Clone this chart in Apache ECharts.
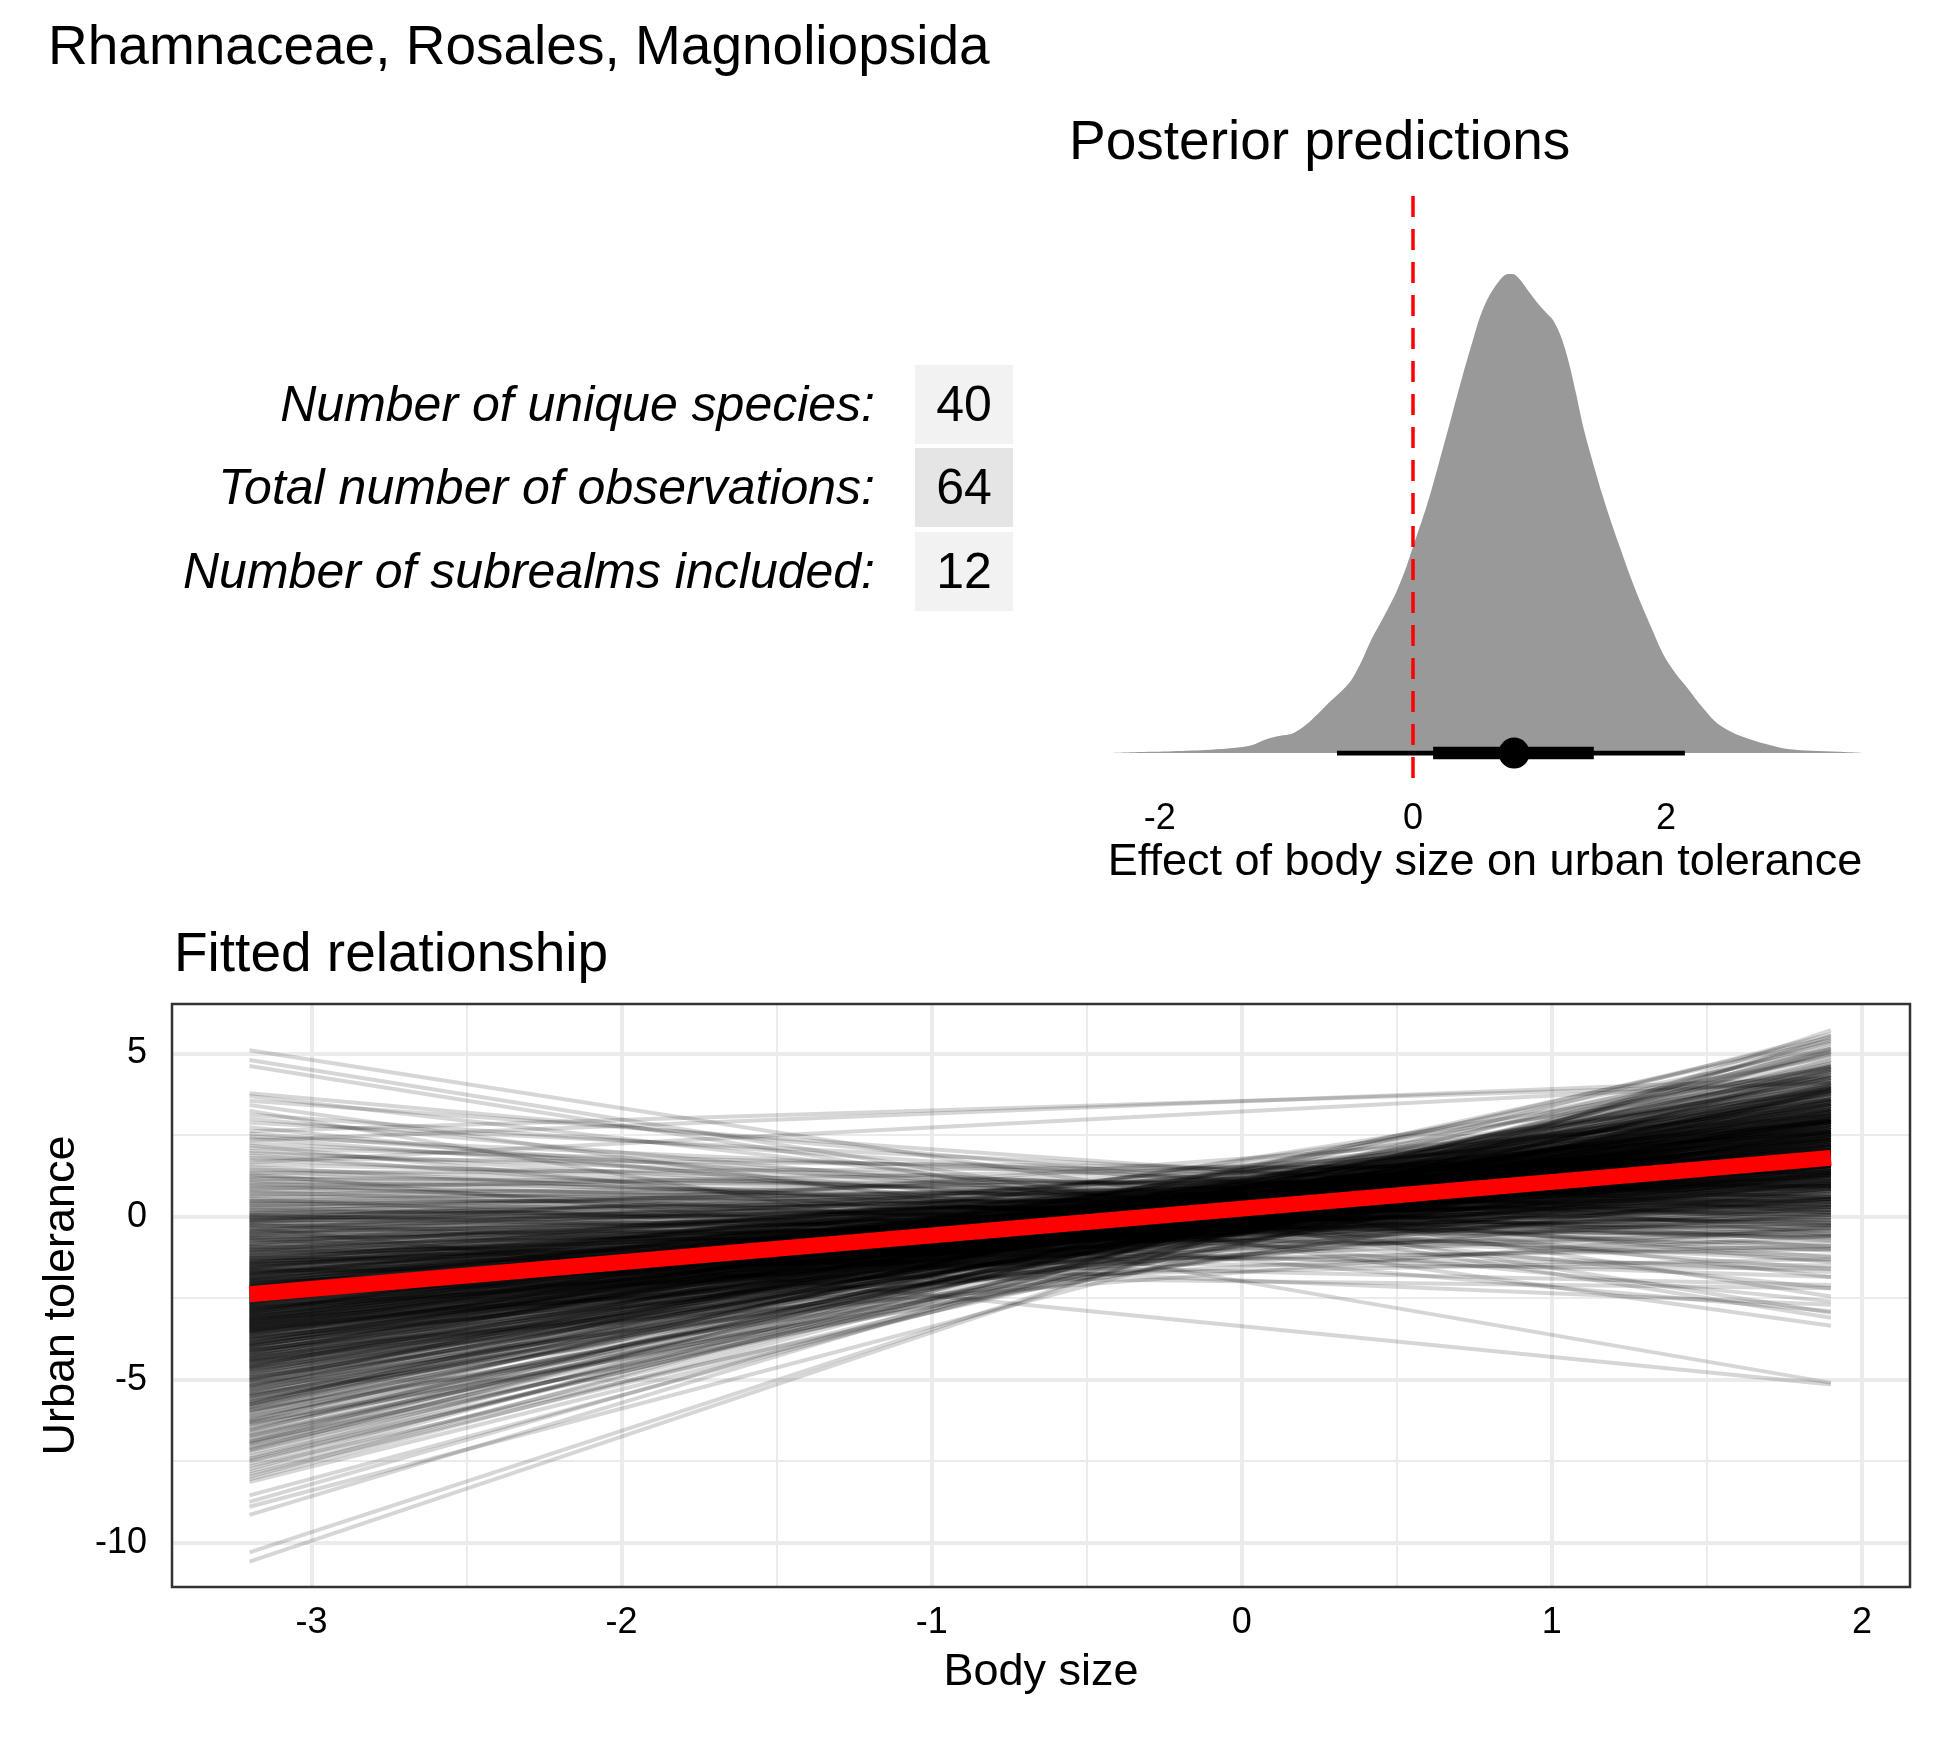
<!DOCTYPE html>
<html>
<head>
<meta charset="utf-8">
<script src="https://cdn.jsdelivr.net/npm/echarts@6.0.0/dist/echarts.min.js"></script>
<style>
  html, body { margin: 0; padding: 0; background: #fff; }
  #main { width: 1950px; height: 1740px; }
</style>
</head>
<body>
<div id="main"></div>
<script>
const FONT = '"Liberation Sans", Arial, Helvetica, sans-serif';

// header + summary table
const mainTitle = 'Rhamnaceae, Rosales, Magnoliopsida';
const statLabels = ['Number of unique species:', 'Total number of observations:', 'Number of subrealms included:'];
const statValues = ['40', '64', '12'];

// posterior density of the slope (height scaled so the mode is 1)
const densityX = [-2.45, -2.2, -1.9, -1.6, -1.4, -1.27, -1.17, -1.05, -0.95, -0.85, -0.75, -0.66, -0.57, -0.49, -0.4, -0.33,
  -0.22, -0.13, -0.05, 0, 0.11, 0.2, 0.3, 0.39, 0.47, 0.53, 0.59, 0.68, 0.75, 0.79, 0.84, 0.92, 0.99, 1.05, 1.11, 1.17,
  1.23, 1.29, 1.35, 1.43, 1.5, 1.57, 1.64, 1.71, 1.78, 1.88, 1.98, 2.08, 2.17, 2.29, 2.41, 2.55, 2.7, 2.85, 2.98, 3.15, 3.37, 3.59];
const densityY = [0, 0.002, 0.004, 0.007, 0.011, 0.017, 0.028, 0.036, 0.041, 0.058, 0.082, 0.106, 0.128, 0.151, 0.195, 0.236,
  0.29, 0.337, 0.39, 0.43, 0.517, 0.6, 0.697, 0.785, 0.858, 0.91, 0.948, 0.985, 1.0, 1.0, 0.99, 0.962, 0.938, 0.92, 0.903, 0.87,
  0.818, 0.75, 0.677, 0.6, 0.537, 0.48, 0.427, 0.375, 0.327, 0.265, 0.206, 0.165, 0.136, 0.095, 0.061, 0.04, 0.026, 0.015, 0.008, 0.005, 0.003, 0];
const slopeMedian = 0.80;
const slopeInner = [0.16, 1.43];
const slopeOuter = [-0.60, 2.15];
const zeroEffect = 0;
const effectTicks = [-2, 0, 2];

// fitted relationship: each posterior draw is a straight line across the body size range
const bodySizeRange = [-3.2, 1.9];
const drawLeftY = [
  5.10, 4.80, 4.62,
  3.78, 3.70, 3.55, 3.42, 3.25, 3.12, 3.00, 2.88, 2.74, 2.62, 2.55,
  2.46, 2.40, 2.33, 2.25, 2.18, 2.10, 2.02, 1.95, 1.88, 1.80, 1.74, 1.66, 1.60, 1.52, 1.45, 1.40, 1.34, 1.30, 1.25, 1.21,
  1.16, 1.12, 1.07, 1.03, 0.98, 0.94, 0.90, 0.85, 0.81, 0.77, 0.72, 0.68, 0.63, 0.59, 0.55, 0.50, 0.46, 0.42, 0.37, 0.33,
  0.29, 0.25, 0.20, 0.16, 0.12, 0.09, 0.06, 0.04, 0.02, 0.00,
  -0.02, -0.05, -0.08, -0.11, -0.14, -0.17, -0.20, -0.23, -0.26, -0.29, -0.32, -0.35, -0.38, -0.41, -0.44, -0.47, -0.50,
  -0.53, -0.56, -0.59, -0.62, -0.65, -0.68, -0.71, -0.74, -0.77, -0.80, -0.83, -0.86, -0.89, -0.92, -0.95, -0.98, -1.01,
  -1.04, -1.07, -1.10, -1.12, -1.14, -1.16, -1.18, -1.00, -0.70, -0.45, -0.25, -0.10, -0.60, -0.90, -1.05, -0.15,
  -1.21, -1.23, -1.25, -1.27, -1.29, -1.31, -1.33, -1.35, -1.37, -1.39, -1.41, -1.43, -1.45, -1.47, -1.49, -1.51, -1.53,
  -1.55, -1.57, -1.59, -1.61, -1.63, -1.65, -1.67, -1.69, -1.71, -1.73, -1.75, -1.77, -1.79, -1.81, -1.83, -1.85, -1.87,
  -1.89, -1.91, -1.93, -1.95, -1.97, -1.99, -2.01, -2.03, -2.05, -2.07, -2.09, -2.11, -2.13, -2.15, -2.17, -2.19, -2.21,
  -2.23, -2.25, -2.27, -2.29, -2.31, -2.33, -2.35, -2.37, -2.39, -1.26, -1.44, -1.62, -1.78, -1.96, -2.12, -2.28, -1.38,
  -1.58, -1.74, -1.92, -2.08, -2.24, -2.36, -1.50,
  -2.41, -2.43, -2.45, -2.47, -2.49, -2.51, -2.53, -2.55, -2.57, -2.59, -2.61, -2.63, -2.65, -2.67, -2.69, -2.71, -2.73,
  -2.75, -2.77, -2.79, -2.81, -2.83, -2.85, -2.87, -2.89, -2.91, -2.93, -2.95, -2.97, -2.99, -3.01, -3.03, -3.05, -3.07,
  -3.09, -3.11, -3.13, -3.15, -3.17, -3.19, -3.21, -3.23, -3.25, -3.27, -3.29, -3.31, -3.33, -3.35, -3.37, -3.39, -3.41,
  -3.43, -3.45, -3.47, -3.49, -3.51, -3.53, -3.55, -3.57, -3.59, -2.44, -2.62, -2.78, -2.96, -3.12, -3.28, -3.44, -2.52,
  -2.70, -2.86, -3.02, -3.18, -3.34, -3.50, -2.58,
  -3.62, -3.65, -3.68, -3.71, -3.74, -3.77, -3.80, -3.83, -3.86, -3.89, -3.92, -3.95, -3.98, -4.01, -4.04, -4.07, -4.10,
  -4.13, -4.16, -4.19, -4.22, -4.25, -4.28, -4.31, -4.34, -4.37, -4.40, -4.43, -4.46, -4.49, -4.52, -4.55, -4.58, -4.61,
  -4.64, -4.67, -4.70, -4.73, -4.76, -4.79, -3.70, -3.90, -4.08, -4.27, -4.45, -4.62, -3.78, -3.96, -4.18, -4.38,
  -4.83, -4.86, -4.90, -4.94, -4.98, -5.02, -5.06, -5.10, -5.14, -5.18, -5.22, -5.26, -5.30, -5.34, -5.38, -5.42, -5.46,
  -5.50, -5.54, -5.58, -5.62, -5.66, -5.70, -5.74, -5.78, -5.82, -5.86, -5.90, -5.94, -5.98, -4.92, -5.20, -5.48, -5.76, -5.00,
  -6.04, -6.10, -6.16, -6.22, -6.28, -6.34, -6.40, -6.46, -6.52, -6.58, -6.64, -6.70, -6.76, -6.82, -6.88, -6.94, -7.00,
  -7.06, -7.12, -7.18, -6.30, -6.90,
  -7.26, -7.34, -7.42, -7.50, -7.58, -7.66, -7.74, -7.82, -7.90, -7.98, -8.06, -8.14,
  -8.55, -8.75, -8.90, -9.15, -10.30, -10.58,
  // second block: the dense core
  0.48, 0.35, 0.22, 0.10, -0.03, -0.13, -0.27, -0.36, -0.48, -0.57, -0.66, -0.75, -0.84, -0.93, -1.02, -1.11, -1.19,
  -1.28, -1.36, -1.42, -1.48, -1.54, -1.60, -1.64, -1.68, -1.72, -1.76, -1.80, -1.84, -1.88, -1.90, -1.94, -1.98, -2.02,
  -2.04, -2.06, -2.10, -2.14, -2.16, -2.18, -2.20, -2.22, -2.26, -2.30, -2.32, -2.34, -2.38, -2.40, -2.42, -2.46, -2.48,
  -2.50, -2.54, -2.56, -2.60, -2.64, -2.66, -2.68, -2.72, -2.74, -2.76, -2.80, -2.82, -2.84, -2.88, -2.90, -2.92, -2.94,
  -2.98, -3.00, -3.04, -3.06, -3.08, -3.10, -3.14, -3.16, -3.20, -3.22, -3.24, -3.26, -3.30, -3.32, -3.36, -3.38, -3.40,
  -3.42, -3.46, -3.48, -3.52, -3.54, -3.56, -3.58, -3.60, -3.64, -3.66, -3.69, -3.72, -3.75, -3.79, -3.82, -3.85, -3.88,
  -3.91, -3.94, -3.97, -4.00, -4.03, -4.06, -4.09, -4.12, -4.15, -4.20, -4.24, -4.29, -4.33, -4.36, -4.41, -4.44, -4.48,
  -4.53, -4.57, -4.60, -4.65, -4.69, -4.74, -4.78, -4.84, -4.88, -4.95, -5.01, -5.07, -5.12, -5.19, -5.25, -5.31, -5.37,
  -5.44, -5.52, -5.60, -5.68, -5.75, -5.84, -5.93, -6.02, -6.14, -6.25, -6.37, -6.55, -6.72, -6.97, -7.15, -7.45
];
const drawRightY = [
  -2.45, -2.95, -3.10,
  -0.55, -1.85, 0.10, -3.35, -5.10, -0.20, -1.40, 0.55, -2.20, 4.10, -0.95,
  0.35, -1.25, 4.25, -0.05, -2.60, 0.90, -0.75, 0.25, -1.60, 1.35, -0.30, 4.15, 0.60, -1.05, 0.20, -0.60, 1.60, -2.90, 0.45, -0.25,
  0.95, -0.70, 0.30, -1.35, 1.10, 0.05, -0.45, 1.85, 0.60, -0.90, 0.15, 1.30, -0.20, 0.85, -1.70, 0.50, 1.55, -0.35, 0.95, 0.20,
  -0.65, 1.40, 0.70, -0.10, 2.10, 0.35, -1.20, 1.00, 0.55, -0.40,
  1.45, 0.30, -0.55, 1.10, 0.80, 2.00, -0.15, 0.65, 1.35, -1.00, 0.95, -5.15, 0.40, 1.70, 0.10, 1.20, -0.30,
  0.75, 2.35, 1.00, -0.80, 0.55, 1.55, 0.20, 1.25, -0.45, 0.90, 2.60, 1.40, 0.35, -1.50, 1.05, 0.60, 1.95,
  0.00, 1.30, 0.75, -0.20, 2.20, 1.10, 0.45, -2.10, -2.70, 3.10, -1.85, 2.55, -0.05, 1.75, 2.90, 0.50,
  1.60, 0.70, 2.30, 1.15, -0.10, 1.85, 0.95, 1.40, 2.70, 0.50, 1.25, 1.90, -0.55, 1.05, 2.05, 1.50, 0.30,
  1.75, 3.10, 1.20, 0.85, 2.40, 1.55, -1.00, 1.95, 0.60, 1.35, 2.25, 1.70, 0.15, 2.85, 1.45, 0.95, 2.00,
  1.10, 3.40, 1.60, 0.40, 2.15, 1.30, 1.85, -0.35, 2.50, 1.00, 1.65, 2.30, 0.75, 1.90, 3.00, 1.40, 2.10,
  0.20, 1.75, 2.60, 1.15, 1.95, 0.90, 2.40, 1.55, 3.60, -1.60, 3.30, -2.20, 2.95, -0.90, 3.85, -1.30, 0.05,
  2.65, 0.45, 1.80, 2.75, 1.25, 0.55, 1.00,
  2.20, 1.30, 2.75, 1.75, 0.60, 2.35, 1.95, 3.20, 1.45, 2.05, 0.85, 2.60, 1.80, 3.45, 2.15, 1.10, 2.45,
  1.65, 3.00, 2.00, 0.35, 2.55, 1.90, 2.90, 1.50, 2.25, 3.70, 1.20, 2.10, 2.65, 1.70, 3.15, 0.95, 2.40,
  1.85, 2.80, 2.05, 4.00, 1.40, 2.50, 2.15, 3.30, 1.60, 2.70, 0.10, 2.30, 3.05, 1.95, 2.55, 1.25, 3.55,
  2.20, 2.85, 1.75, 2.45, 3.90, 2.00, 1.05, 2.65, 3.20, -0.40, 4.30, 0.05, 4.55, -0.60, 4.10, 0.55, 1.60,
  2.95, 2.35, 1.55, 3.60, 2.60, 1.90, 2.30,
  2.60, 1.90, 3.25, 2.35, 1.40, 3.00, 2.70, 3.75, 2.05, 2.90, 1.70, 3.40, 2.50, 4.15, 2.25, 3.10, 1.55,
  2.85, 3.60, 2.40, 3.30, 0.80, 2.95, 3.85, 2.20, 3.15, 2.60, 4.40, 1.95, 3.05, 2.75, 3.50, 2.30, 4.00,
  2.90, 1.35, 3.35, 2.55, 3.80, 3.00, 0.30, 4.60, -0.30, 4.90, 1.10, 5.15, 2.20, 2.95, 3.45, 2.05,
  3.20, 2.35, 3.70, 2.90, 4.25, 3.45, 2.60, 3.95, 3.10, 1.85, 3.55, 4.50, 2.80, 3.35, 4.10, 3.00, 2.15,
  3.75, 4.70, 3.25, 2.65, 4.00, 3.50, 5.05, 2.95, 3.85, 4.35, 3.15, 1.60, 4.55, 0.90, 5.40, 1.35, 5.50, 3.60,
  3.80, 2.90, 4.45, 3.40, 4.95, 3.65, 2.50, 4.20, 3.90, 5.30, 3.10, 4.60, 3.75, 4.25, 2.75, 5.00, 4.05,
  3.45, 4.80, 3.95, 1.90, 5.60,
  4.35, 3.60, 5.05, 4.10, 4.70, 3.30, 5.35, 4.45, 3.85, 5.20, 4.60, 3.95,
  4.50, 5.10, 3.90, 5.45, 5.55, 5.72,
  // second block: the dense core
  0.05, 1.20, -0.60, 0.85, 0.15, 1.60, -0.25, 1.05, 0.45, 1.85, -0.10, 0.95, 1.55, 0.30, 1.15, 2.05, 0.55,
  1.30, -0.25, 2.15, 0.85, 1.60, 2.45, 0.25, 1.25, 1.85, 0.80, 2.55, 1.50, 0.65, 2.10, 1.20, 2.90, 1.55,
  0.45, 2.20, 1.35, 2.65, 0.95, 1.80, 3.25, 1.45, 2.35, 0.70, 1.90, 2.80, 1.30, 2.05, 3.05, 1.60, 0.95,
  2.50, 1.85, 2.95, 1.35, 2.20, 3.50, 1.70, 2.60, 0.55, 2.35, 1.55, 3.10, 2.00, 2.70, 1.30, 2.45, 3.35,
  1.85, 2.25, 2.90, 1.50, 3.60, 2.15, 1.05, 2.75, 1.90, 3.15, 2.40, 1.25, 2.95, 2.05, 3.45, 1.70, 2.60,
  0.85, 3.00, 2.25, 1.55, 3.75, 2.45, 1.90, 2.85, 3.30, 1.45, 2.55, 3.85, 2.10, 2.90, 1.20, 3.20, 2.45,
  3.55, 1.80, 2.75, 3.95, 2.35, 3.25, 1.60, 2.95, 4.20, 2.50, 3.40, 2.00, 3.70, 2.80, 1.45, 3.15, 4.05,
  2.60, 3.45, 1.95, 3.90, 2.85, 3.25, 2.20, 4.30, 3.00, 2.45, 3.60, 4.45, 2.75, 3.30, 3.95, 2.35, 4.60,
  3.10, 3.80, 2.85, 4.25, 3.45, 4.80, 3.20, 4.10, 3.05, 4.65, 3.55, 4.35, 3.85, 4.50, 5.15, 4.00
];
const fitY = [-2.38, 1.80];
const bodyTicks = [-3, -2, -1, 0, 1, 2];
const bodyMinor = [-2.5, -1.5, -0.5, 0.5, 1.5];
const tolTicks = [-10, -5, 0, 5];
const tolMinor = [-7.5, -2.5, 2.5];

// layout (pixels)
const TOP = { left: 1065, top: 194, width: 840, height: 584 };
const BOT = { left: 172, top: 1004, width: 1738, height: 583 };

const chart = echarts.init(document.getElementById('main'), null, { renderer: 'canvas' });

const gridLines = [];
bodyMinor.forEach(v => gridLines.push({ xAxis: v, lineStyle: { color: '#ebebeb', width: 2, type: 'solid' } }));
tolMinor.forEach(v => gridLines.push({ yAxis: v, lineStyle: { color: '#ebebeb', width: 2, type: 'solid' } }));
bodyTicks.forEach(v => gridLines.push({ xAxis: v, lineStyle: { color: '#ebebeb', width: 4, type: 'solid' } }));
tolTicks.forEach(v => gridLines.push({ yAxis: v, lineStyle: { color: '#ebebeb', width: 4, type: 'solid' } }));

const draws = drawLeftY.map((l, i) => ({
  coords: [[bodySizeRange[0], l], [bodySizeRange[1], drawRightY[i]]]
}));

// summary table on the left
const tableGraphics = [];
const rowTops = [365, 448, 532];
statLabels.forEach((lab, i) => {
  tableGraphics.push({
    type: 'rect', shape: { x: 915, y: rowTops[i], width: 98, height: 79 },
    style: { fill: i === 1 ? '#e5e5e5' : '#f2f2f2' }
  });
  tableGraphics.push({
    type: 'text', x: 875, y: rowTops[i] + 42,
    style: { text: lab, fontSize: 50, fontStyle: 'italic', fontFamily: FONT, fill: '#000',
      align: 'right', verticalAlign: 'middle', textAlign: 'right', textVerticalAlign: 'middle' }
  });
  tableGraphics.push({
    type: 'text', x: 964, y: rowTops[i] + 42,
    style: { text: statValues[i], fontSize: 50, fontFamily: FONT, fill: '#000',
      align: 'center', verticalAlign: 'middle', textAlign: 'center', textVerticalAlign: 'middle' }
  });
});

function titleText(text, x, y) {
  return {
    type: 'text', x: x, y: y,
    style: { text: text, fontSize: 55, fontFamily: FONT, fill: '#000',
      align: 'left', verticalAlign: 'middle', textAlign: 'left', textVerticalAlign: 'middle' }
  };
}

const option = {
  animation: false,
  backgroundColor: '#fff',
  textStyle: { fontFamily: FONT },
  grid: [
    { left: TOP.left, top: TOP.top, width: TOP.width, height: TOP.height, containLabel: false, outerBoundsMode: 'none' },
    { left: BOT.left, top: BOT.top, width: BOT.width, height: BOT.height, containLabel: false, outerBoundsMode: 'none' }
  ],
  xAxis: [
    {
      type: 'value', gridIndex: 0, min: -2.75, max: 3.89,
      axisLine: { show: false }, axisTick: { show: false }, splitLine: { show: false },
      axisLabel: { customValues: effectTicks, fontSize: 36, color: '#000', margin: 23, fontFamily: FONT },
      name: 'Effect of body size on urban tolerance', nameLocation: 'middle', nameGap: 62,
      nameTextStyle: { fontSize: 45, color: '#000', fontFamily: FONT }
    },
    {
      type: 'value', gridIndex: 1, min: -3.45, max: 2.155,
      axisLine: { show: false }, splitLine: { show: false },
      axisTick: { customValues: bodyTicks, length: 11, lineStyle: { color: '#333', width: 4 } },
      axisLabel: { customValues: bodyTicks, fontSize: 36, color: '#000', margin: 18, fontFamily: FONT },
      name: 'Body size', nameLocation: 'middle', nameGap: 63,
      nameTextStyle: { fontSize: 45, color: '#000', fontFamily: FONT }
    }
  ],
  yAxis: [
    { type: 'value', gridIndex: 0, min: -0.052, max: 1.167, show: false },
    {
      type: 'value', gridIndex: 1, min: -11.36, max: 6.52,
      axisLine: { show: false }, splitLine: { show: false },
      axisTick: { customValues: tolTicks, length: 11, lineStyle: { color: '#333', width: 4 } },
      axisLabel: { customValues: tolTicks, fontSize: 36, color: '#000', margin: 25, fontFamily: FONT },
      name: 'Urban tolerance', nameLocation: 'middle', nameGap: 85, nameRotate: 90,
      nameTextStyle: { fontSize: 45, color: '#000', fontFamily: FONT }
    }
  ],
  series: [
    {
      type: 'line', xAxisIndex: 0, yAxisIndex: 0, z: 1, silent: true,
      data: densityX.map((x, i) => [x, densityY[i]]),
      smooth: 0.3, symbol: 'none', lineStyle: { width: 0 },
      areaStyle: { color: '#999999', opacity: 1 }
    },
    {
      type: 'line', xAxisIndex: 0, yAxisIndex: 0, z: 2, silent: true, data: [],
      markLine: {
        z: 2, silent: true, animation: false, symbol: ['none', 'none'], label: { show: false },
        lineStyle: { color: '#ff0000', width: 3.5, type: [21, 12] },
        data: [{ xAxis: zeroEffect }]
      }
    },
    {
      type: 'line', xAxisIndex: 0, yAxisIndex: 0, z: 3, silent: true, symbol: 'none',
      data: [[slopeOuter[0], 0], [slopeOuter[1], 0]],
      lineStyle: { color: '#000', width: 4.7 }
    },
    {
      type: 'line', xAxisIndex: 0, yAxisIndex: 0, z: 3, silent: true, symbol: 'none',
      data: [[slopeInner[0], 0], [slopeInner[1], 0]],
      lineStyle: { color: '#000', width: 12.5 }
    },
    {
      type: 'scatter', xAxisIndex: 0, yAxisIndex: 0, z: 4, silent: true,
      data: [[slopeMedian, 0]], symbol: 'circle', symbolSize: 31,
      itemStyle: { color: '#000', opacity: 1 }
    },
    {
      type: 'line', xAxisIndex: 1, yAxisIndex: 1, z: 1, silent: true, data: [],
      markLine: {
        z: 1, silent: true, animation: false, symbol: ['none', 'none'], label: { show: false },
        data: gridLines
      }
    },
    {
      type: 'lines', coordinateSystem: 'cartesian2d', xAxisIndex: 1, yAxisIndex: 1, z: 3,
      silent: true, large: false, progressive: 0, polyline: false,
      data: draws,
      lineStyle: { color: '#000', width: 4, opacity: 0.16, curveness: 0 }
    },
    {
      type: 'line', xAxisIndex: 1, yAxisIndex: 1, z: 4, silent: true, symbol: 'none',
      data: [[bodySizeRange[0], fitY[0]], [bodySizeRange[1], fitY[1]]],
      lineStyle: { color: '#ff0000', width: 16, cap: 'butt' }
    }
  ],
  graphic: [
    titleText(mainTitle, 48, 49),
    titleText('Posterior predictions', 1069, 144),
    titleText('Fitted relationship', 174, 956),
    ...tableGraphics,
    {
      type: 'rect', z: 100, silent: true,
      shape: { x: BOT.left, y: BOT.top, width: BOT.width, height: BOT.height },
      style: { fill: 'none', stroke: '#333', lineWidth: 2.5 }
    }
  ]
};

chart.setOption(option);
</script>
</body>
</html>
